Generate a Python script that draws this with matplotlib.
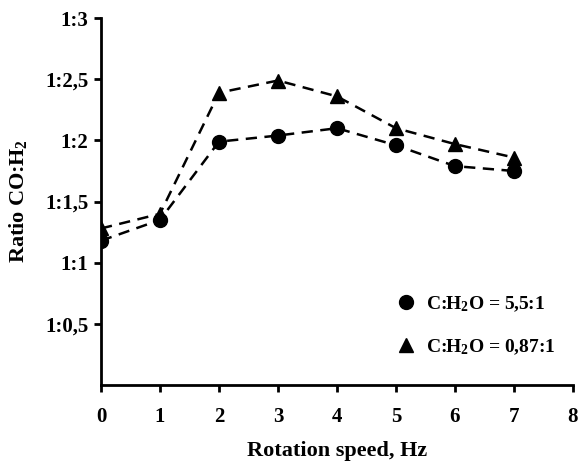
import matplotlib
matplotlib.use('Agg')
import matplotlib.pyplot as plt

plt.rcParams['font.family'] = ['Liberation Serif', 'DejaVu Serif']
plt.rcParams['font.weight'] = 'bold'
plt.rcParams['mathtext.default'] = 'regular'

speed = [0, 1, 2, 3, 4, 5, 6, 7]
ratio_55 = [1.18, 1.35, 1.99, 2.04, 2.10, 1.96, 1.79, 1.75]
ratio_087 = [1.28, 1.40, 2.39, 2.49, 2.36, 2.10, 1.97, 1.86]
ytick_vals = [0.5, 1, 1.5, 2, 2.5, 3]
ytick_labels = ['1:0,5', '1:1', '1:1,5', '1:2', '1:2,5', '1:3']
label_55 = 'C:H$_2$O = 5,5:1'
label_087 = 'C:H$_2$O = 0,87:1'

fig = plt.figure(figsize=(5.82, 4.65), dpi=100)
ax = fig.add_axes([0.1735, 0.172, 0.811, 0.789])

ax.plot(speed, ratio_55, color='black', ls=(0, (4.5, 3)), lw=1.8)
ax.plot(speed, ratio_087, color='black', ls=(0, (4.5, 3)), lw=1.8)
ax.plot(speed, ratio_55, 'o', color='black', ms=10, label=label_55)
ax.plot(speed, ratio_087, '^', color='black', ms=10, label=label_087)

ax.set_xlim(0, 8)
ax.set_ylim(0, 3)
ax.set_xticks(range(9))
ax.set_yticks(ytick_vals)
ax.set_yticklabels(ytick_labels)
ax.tick_params(labelsize=15, width=2, length=5, direction='out')
ax.tick_params(axis='x', pad=11)
ax.tick_params(axis='y', pad=4)
for s in ['top', 'right']:
    ax.spines[s].set_visible(False)
for s in ['left', 'bottom']:
    ax.spines[s].set_linewidth(2)
for lab in ax.get_xticklabels() + ax.get_yticklabels():
    lab.set_fontweight('bold')

ax.set_xlabel('Rotation speed, Hz', fontsize=16, fontweight='bold', labelpad=10)
ax.set_ylabel('Ratio CO:H$_2$', fontsize=16, fontweight='bold', labelpad=12)

leg = ax.legend(loc='lower right', bbox_to_anchor=(1.0, 0.03), frameon=False,
                prop={'size': 14, 'weight': 'bold'}, handletextpad=0.3,
                labelspacing=1.2, handlelength=1.5)

fig.savefig('out.png', dpi=100)
